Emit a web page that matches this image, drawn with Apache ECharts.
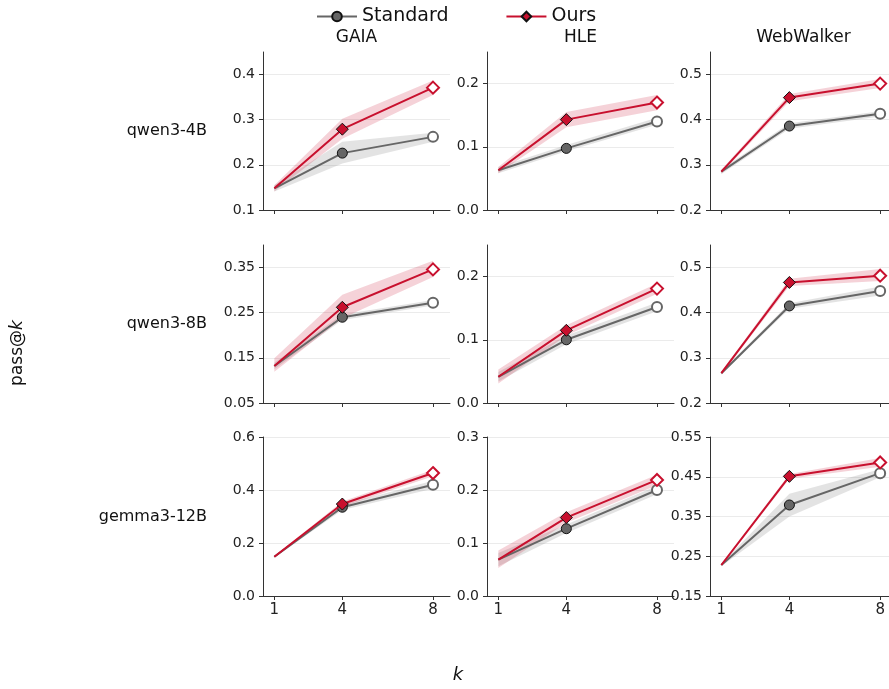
<!DOCTYPE html>
<html><head><meta charset="utf-8">
<script src="https://cdn.jsdelivr.net/npm/echarts@6/dist/echarts.min.js"></script>
<style>html,body{margin:0;padding:0;background:#fff}#c{width:889px;height:689px}</style>
</head><body><div id="c"></div>
<script>
// ---------- data ----------
const kValues = [1, 4, 8];
const benchmarks = ['GAIA', 'HLE', 'WebWalker'];
const models = ['qwen3-4B', 'qwen3-8B', 'gemma3-12B'];

// panel order: row (model) major, column (benchmark) minor
const stdMean = [
  [0.148, 0.226, 0.262], [0.063, 0.0975, 0.140], [0.285, 0.386, 0.413],
  [0.132, 0.240, 0.272], [0.0415, 0.100, 0.152], [0.266, 0.415, 0.448],
  [0.148, 0.335, 0.420], [0.0685, 0.127, 0.200], [0.228, 0.379, 0.459]
];
const stdLow = [
  [0.141, 0.203, 0.251], [0.058, 0.093, 0.135], [0.280, 0.380, 0.407],
  [0.125, 0.234, 0.266], [0.034, 0.093, 0.145], [0.263, 0.409, 0.438],
  [0.145, 0.325, 0.405], [0.056, 0.119, 0.192], [0.225, 0.350, 0.449]
];
const stdHigh = [
  [0.155, 0.251, 0.271], [0.068, 0.103, 0.146], [0.290, 0.392, 0.419],
  [0.139, 0.246, 0.278], [0.049, 0.107, 0.159], [0.269, 0.421, 0.458],
  [0.151, 0.345, 0.435], [0.081, 0.135, 0.208], [0.231, 0.407, 0.469]
];
const oursMean = [
  [0.148, 0.279, 0.371], [0.063, 0.143, 0.170], [0.285, 0.449, 0.480],
  [0.132, 0.262, 0.346], [0.0415, 0.115, 0.181], [0.266, 0.467, 0.482],
  [0.148, 0.347, 0.464], [0.0685, 0.148, 0.219], [0.228, 0.451, 0.486]
];
const oursLow = [
  [0.141, 0.258, 0.355], [0.058, 0.131, 0.158], [0.281, 0.441, 0.470],
  [0.119, 0.238, 0.329], [0.031, 0.107, 0.173], [0.263, 0.459, 0.470],
  [0.145, 0.337, 0.452], [0.053, 0.138, 0.209], [0.225, 0.445, 0.475]
];
const oursHigh = [
  [0.155, 0.302, 0.387], [0.068, 0.155, 0.182], [0.289, 0.457, 0.490],
  [0.149, 0.290, 0.365], [0.053, 0.123, 0.189], [0.269, 0.475, 0.497],
  [0.151, 0.357, 0.476], [0.086, 0.158, 0.229], [0.231, 0.457, 0.497]
];
const yMin = [0.1, 0, 0.2, 0.05, 0, 0.2, 0, 0, 0.15];
const yMax = [0.45, 0.25, 0.55, 0.40, 0.25, 0.55, 0.6, 0.3, 0.55];
const yTicks = [
  [0.1, 0.2, 0.3, 0.4], [0.0, 0.1, 0.2], [0.2, 0.3, 0.4, 0.5],
  [0.05, 0.15, 0.25, 0.35], [0.0, 0.1, 0.2], [0.2, 0.3, 0.4, 0.5],
  [0.0, 0.2, 0.4, 0.6], [0.0, 0.1, 0.2, 0.3], [0.15, 0.25, 0.35, 0.45, 0.55]
];

// ---------- layout / style ----------
const FONT = 'DejaVu Sans';
const colLeft = [263, 487, 710];
const colWidth = [187, 187, 179];
const colXMax = [8.75, 8.75, 8.39];
const rowTop = [52, 245, 437];
const rowHeight = [158, 158, 159];
const STD = '#666666';
const OURS = '#c8102e';
const AX = '#333333';

function decimals(ticks) {
  let d = 1;
  ticks.forEach(t => { const s = String(t); const p = s.indexOf('.'); if (p >= 0) d = Math.max(d, s.length - p - 1); });
  return d;
}

function bandSeries(i, lo, hi, color, z) {
  return {
    type: 'custom', xAxisIndex: i, yAxisIndex: i, z: z, silent: true,
    data: kValues.map((k, j) => [k, lo[j], hi[j]]),
    encode: { x: 0, y: [1, 2] },
    renderItem: function (params, api) {
      if (params.dataIndexInside !== 0) return null;
      const n = params.dataInsideLength;
      const top = [], bot = [];
      for (let j = 0; j < n; j++) {
        top.push(api.coord([api.value(0, j), api.value(2, j)]));
        bot.push(api.coord([api.value(0, j), api.value(1, j)]));
      }
      return { type: 'polygon', shape: { points: top.concat(bot.reverse()) }, style: { fill: color } };
    }
  };
}

function lineSeries(i, name, vals, color, symbol, size, z) {
  return {
    type: 'line', name: name, xAxisIndex: i, yAxisIndex: i, z: z,
    symbol: symbol, symbolSize: size, showSymbol: true, silent: true,
    lineStyle: { color: color, width: 2 },
    itemStyle: { color: color, borderColor: '#111', borderWidth: 1 },
    emphasis: { disabled: true },
    data: kValues.map((k, j) => {
      const item = { value: [k, vals[j]] };
      if (j === 0) item.symbol = 'none';
      if (j === kValues.length - 1) item.itemStyle = { color: '#ffffff', borderColor: color, borderWidth: 2 };
      return item;
    })
  };
}

const grid = [], xAxis = [], yAxis = [], series = [];
for (let r = 0; r < 3; r++) {
  for (let c = 0; c < 3; c++) {
    const i = r * 3 + c;
    grid.push({ left: colLeft[c], top: rowTop[r], width: colWidth[c], height: rowHeight[r], containLabel: false });
    xAxis.push({
      type: 'value', gridIndex: i, min: 0.5, max: colXMax[c],
      axisLine: { show: true, onZero: false, lineStyle: { color: AX, width: 1 } },
      axisTick: { show: true, length: 4, customValues: kValues, lineStyle: { color: AX, width: 1 } },
      axisLabel: { show: r === 2, customValues: kValues, fontSize: 15, color: '#222', margin: 7, fontFamily: FONT },
      splitLine: { show: false }
    });
    const dec = decimals(yTicks[i]);
    yAxis.push({
      type: 'value', gridIndex: i, min: yMin[i], max: yMax[i],
      axisLine: { show: true, onZero: false, lineStyle: { color: AX, width: 1 } },
      axisTick: { show: true, length: 4, customValues: yTicks[i], lineStyle: { color: AX, width: 1 } },
      axisLabel: { customValues: yTicks[i], formatter: v => Number(v).toFixed(dec), fontSize: 14, color: '#222', margin: 8, fontFamily: FONT },
      splitLine: { show: true, lineStyle: { color: '#ebebeb', width: 1 } }
    });
    series.push(bandSeries(i, stdLow[i], stdHigh[i], 'rgba(128,128,128,0.22)', 1));
    series.push(bandSeries(i, oursLow[i], oursHigh[i], 'rgba(200,16,46,0.19)', 2));
    series.push(lineSeries(i, 'Standard', stdMean[i], STD, 'circle', 10, 3));
    series.push(lineSeries(i, 'Ours', oursMean[i], OURS, 'diamond', 12, 4));
  }
}

const graphic = [];
benchmarks.forEach((b, c) => {
  graphic.push({ type: 'text', x: colLeft[c] + 187 / 2, y: 38,
    style: { text: b, fontSize: 17, fontFamily: FONT, fill: '#111', align: 'center', verticalAlign: 'middle', textAlign: 'center', textVerticalAlign: 'middle' } });
});
models.forEach((m, r) => {
  graphic.push({ type: 'text', x: 207, y: rowTop[r] + rowHeight[r] / 2,
    style: { text: m, fontSize: 16, fontFamily: FONT, fill: '#111', align: 'right', verticalAlign: 'middle', textAlign: 'right', textVerticalAlign: 'middle' } });
});
graphic.push({ type: 'text', x: 18, y: 353, rotation: Math.PI / 2,
  style: { text: '{a|pass@}{b|k}', fontSize: 17, fontFamily: FONT, fill: '#111', align: 'center', verticalAlign: 'middle', textAlign: 'center', textVerticalAlign: 'middle',
    rich: { a: { fontSize: 17, fontFamily: FONT, fill: '#111' }, b: { fontSize: 17, fontFamily: FONT, fontStyle: 'italic', fill: '#111' } } } });
graphic.push({ type: 'text', x: 458, y: 675,
  style: { text: 'k', fontSize: 18, fontStyle: 'italic', fontFamily: FONT, fill: '#111', align: 'center', verticalAlign: 'middle', textAlign: 'center', textVerticalAlign: 'middle' } });

const chart = echarts.init(document.getElementById('c'), null, { renderer: 'canvas' });
chart.setOption({
  animation: false,
  backgroundColor: '#ffffff',
  legend: {
    data: ['Standard', 'Ours'], left: 311, top: 2, itemWidth: 40, itemHeight: 12, itemGap: 57,
    textStyle: { fontSize: 19, fontFamily: FONT, color: '#111' }, selectedMode: false
  },
  grid: grid, xAxis: xAxis, yAxis: yAxis, series: series, graphic: graphic
});
</script>
</body></html>
